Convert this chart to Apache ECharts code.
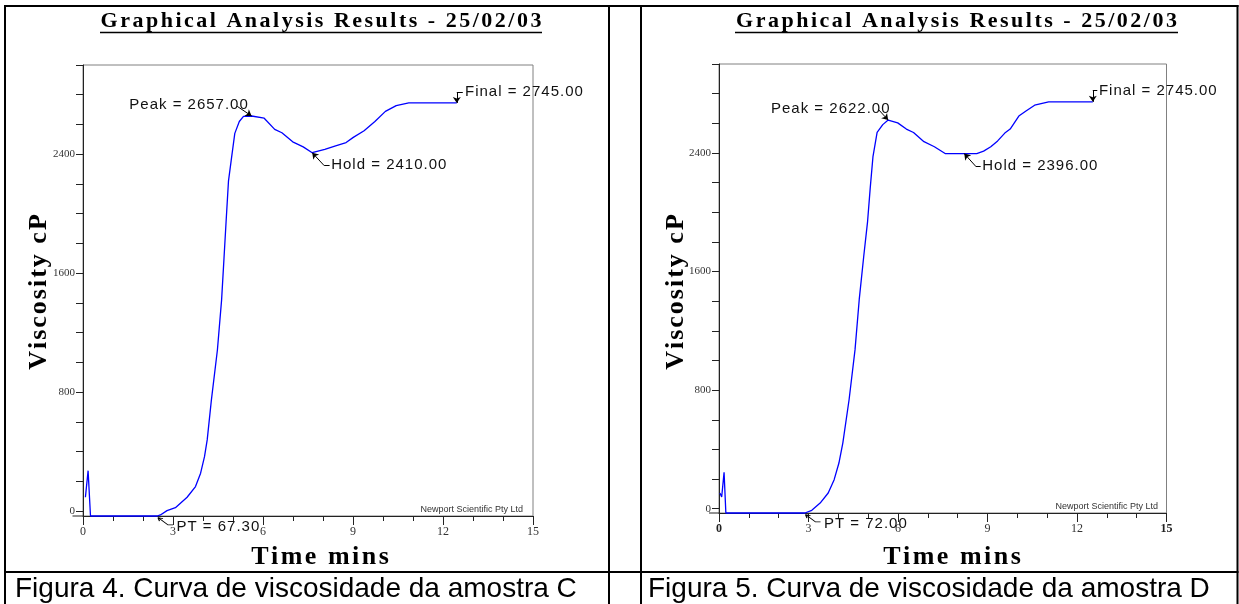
<!DOCTYPE html>
<html>
<head>
<meta charset="utf-8">
<title>Graphical Analysis Results - 25/02/03</title>
<script src="https://cdn.jsdelivr.net/npm/echarts@6/dist/echarts.min.js"></script>
<style>
  html, body { margin: 0; padding: 0; background: #fff; }
  #main { width: 1239px; height: 604px; }
</style>
</head>
<body>
<div id="main"></div>
<script>
// amostra C (esquerda): tempo em min, viscosidade em cP
const timeC = [0.08, 0.12, 0.17, 0.25, 2.47, 2.58, 2.8, 3.08, 3.47, 3.75, 3.92, 4.05, 4.14, 4.28, 4.48, 4.62, 4.7,
  4.77, 4.85, 4.94, 5.06, 5.21, 5.35, 5.62, 6.04, 6.39, 6.63, 6.99, 7.34, 7.64, 8.06, 8.42, 8.77, 9.01, 9.37,
  9.73, 10.08, 10.44, 10.86, 12.46]
const viscC = [92, 87, 271, -34, -34, -27, 2, 22, 92, 164, 254, 365, 478, 747, 1083, 1420, 1700,
  1947, 2221, 2358, 2540, 2620, 2654, 2657, 2642, 2567, 2544, 2483, 2449, 2410, 2433, 2456, 2478, 2513, 2558,
  2620, 2688, 2727, 2745, 2745]

// amostra D (direita)
const timeD = [0.03, 0.09, 0.17, 0.23, 2.88, 3.11, 3.39, 3.66, 3.86, 4.02, 4.15, 4.36, 4.56, 4.7, 4.85, 4.98,
  5.07, 5.16, 5.3, 5.49, 5.67, 5.99, 6.28, 6.52, 6.87, 7.22, 7.58, 8.64, 8.87, 9.11, 9.34, 9.58, 9.76, 10.05,
  10.29, 10.58, 11.05, 12.53]
const viscD = [106, 79, 245, -29, -29, -11, 38, 106, 196, 308, 443, 735, 1073, 1410, 1700, 1937,
  2166, 2373, 2538, 2591, 2622, 2603, 2561, 2538, 2476, 2442, 2396, 2396, 2412, 2442, 2481, 2534, 2561, 2649,
  2683, 2722, 2745, 2745]

// pontos marcados: [tempo, viscosidade]
const peakC = [5.62, 2657]
const holdC = [7.64, 2410]
const finalC = [12.46, 2745]
const ptC = [2.5, -34]
const peakD = [5.67, 2622]
const holdD = [8.22, 2396]
const finalD = [12.53, 2745]
const ptD = [2.9, -29]

const labelsC = ['Peak = 2657.00', 'Hold = 2410.00', 'Final = 2745.00', 'PT = 67.30']
const labelsD = ['Peak = 2622.00', 'Hold = 2396.00', 'Final = 2745.00', 'PT = 72.00']

// eixos
const yTickValues = [0, 200, 400, 600, 800, 1000, 1200, 1400, 1600, 1800, 2000, 2200, 2400, 2600, 2800, 3000]
const yLabelValues = [0, 800, 1600, 2400]
const yMinC = -34
const yMinD = -29
const yMax = 3000
const xMax = 15
const xStep = 3

const titleText = 'Graphical Analysis Results - 25/02/03'
const yName = 'Viscosity cP'
const xName = 'Time mins'
const credit = 'Newport Scientific Pty Ltd'
const captions = ['Figura 4. Curva de viscosidade da amostra C', 'Figura 5. Curva de viscosidade da amostra D']

// onde ficam os textos das anotações (coordenadas de dados)
const layoutC = {
  peakText: [1.51, 2731], peakFrom: [5.14, 2722],
  holdText: [8.24, 2330], holdElbow: [8.04, 2323], holdEnd: [8.22, 2323],
  finalText: [12.7, 2820], finalElbow: [12.46, 2815], finalEnd: [12.66, 2815]
}
const layoutD = {
  peakText: [1.71, 2699], peakFrom: [5.34, 2694],
  holdText: [8.79, 2311], holdElbow: [8.6, 2311], holdEnd: [8.77, 2311],
  finalText: [12.7, 2821], finalElbow: [12.53, 2821], finalEnd: [12.68, 2821]
}

const serif = 'Liberation Serif'
const sans = 'Liberation Sans'

// letra a letra, para ter o espaçamento largo do original
function spaced (str, key) {
  return str.split('').map(c => '{' + key + '|' + c + '}').join('')
}

const annRich = {
  sp: { fontFamily: sans, fontSize: 15, color: '#111', padding: [0, 0.5, 0, 0.5] }
}

function textMark (coord, text) {
  return {
    coord: coord,
    symbol: 'circle',
    symbolSize: 1,
    itemStyle: { color: 'rgba(0,0,0,0)' },
    label: {
      show: true,
      position: 'right',
      distance: 0,
      formatter: () => spaced(text, 'sp'),
      rich: annRich
    }
  }
}

function buildMarks (peak, hold, fin, pt, labels, lay) {
  const none = { symbol: 'none' }
  return {
    markLine: {
      silent: true,
      animation: false,
      symbol: ['none', 'arrow'],
      symbolSize: 6,
      label: { show: false },
      lineStyle: { color: '#000', width: 1, type: 'solid' },
      emphasis: { disabled: true },
      data: [
        [{ coord: lay.peakFrom }, { coord: peak }],
        [{ coord: lay.holdElbow }, { coord: hold }],
        [Object.assign({ coord: lay.holdElbow }, none), Object.assign({ coord: lay.holdEnd }, none)],
        [{ coord: lay.finalElbow }, { coord: fin }],
        [Object.assign({ coord: lay.finalElbow }, none), Object.assign({ coord: lay.finalEnd }, none)]
      ]
    },
    markPoint: {
      silent: true,
      animation: false,
      data: [
        textMark(lay.peakText, labels[0]),
        textMark(lay.holdText, labels[1]),
        textMark(lay.finalText, labels[2]),
        {
          coord: pt,
          symbol: 'path://M0 0L10 10.5L15 10.5M0 0L1.5 5M0 0L5 1.5',
          symbolSize: [15, 10.5],
          symbolKeepAspect: true,
          symbolOffset: [7.5, 5.25],
          itemStyle: { color: 'none', borderColor: '#000', borderWidth: 1 },
          label: {
            show: true,
            position: 'right',
            distance: 0,
            offset: [0, 5.25],
            formatter: () => spaced(labels[3], 'sp'),
            rich: annRich
          }
        }
      ]
    }
  }
}

function xAxisOf (idx, boldEnds) {
  return {
    type: 'value',
    gridIndex: idx,
    min: 0,
    max: xMax,
    interval: xStep,
    splitLine: { show: false },
    axisLine: { onZero: false, lineStyle: { color: '#222', width: 1 } },
    axisTick: { length: 9, lineStyle: { color: '#222' } },
    minorTick: { show: true, splitNumber: 3, length: 5, lineStyle: { color: '#222' } },
    axisLabel: {
      margin: 10,
      color: '#333',
      fontFamily: serif,
      fontSize: 12,
      formatter: v => (boldEnds && (v === 0 || v === xMax)) ? '{b|' + v + '}' : String(v),
      rich: { b: { fontFamily: serif, fontSize: 12, fontWeight: 'bold', color: '#222' } }
    }
  }
}

function yAxisOf (idx, min) {
  return {
    type: 'value',
    gridIndex: idx,
    min: min,
    max: yMax,
    splitLine: { show: false },
    axisLine: { lineStyle: { color: '#222', width: 1 } },
    axisTick: { length: 7, customValues: yTickValues, lineStyle: { color: '#222' } },
    axisLabel: {
      margin: 8,
      customValues: yLabelValues,
      formatter: v => String(v),
      color: '#333',
      fontFamily: serif,
      fontSize: 11
    }
  }
}

function seriesOf (idx, times, visc, marks) {
  return Object.assign({
    type: 'line',
    xAxisIndex: idx,
    yAxisIndex: idx,
    data: times.map((t, i) => [t, visc[i]]),
    showSymbol: false,
    clip: false,
    silent: true,
    lineStyle: { color: '#0000ff', width: 1.3 },
    itemStyle: { color: '#0000ff' }
  }, marks)
}

// moldura da tabela e textos fixos
function line (x1, y1, x2, y2, w, c) {
  return { type: 'line', silent: true, shape: { x1, y1, x2, y2 }, style: { stroke: c || '#000', lineWidth: w } }
}
function text (x, y, str, key, style, rot) {
  const rich = {}
  rich[key] = style
  return {
    type: 'text',
    silent: true,
    x: x,
    y: y,
    rotation: rot || 0,
    style: {
      text: spaced(str, key),
      rich: rich,
      fill: '#000',
      align: 'center',
      verticalAlign: 'middle'
    }
  }
}

const titleStyle = { fontFamily: serif, fontWeight: 'bold', fontSize: 22, fill: '#000', padding: [0, 1.25, 0, 1.25] }
const yNameStyle = { fontFamily: serif, fontWeight: 'bold', fontSize: 26, fill: '#000', padding: [0, 1, 0, 1] }
const xNameStyle = { fontFamily: serif, fontWeight: 'bold', fontSize: 26, fill: '#000', padding: [0, 1.25, 0, 1.25] }

const graphics = [
  line(4, 6, 1238.5, 6, 2),
  line(4, 572, 1238.5, 572, 2),
  line(5, 5, 5, 604, 2),
  line(609, 5, 609, 604, 2),
  line(641, 5, 641, 604, 2),
  line(1237.5, 5, 1237.5, 604, 2),
  text(321, 21, titleText, 't', titleStyle),
  text(956.5, 21, titleText, 't', titleStyle),
  line(100, 32.5, 542, 32.5, 1.3),
  line(735, 32.5, 1178, 32.5, 1.3),
  text(39, 292, yName, 'y', yNameStyle, Math.PI / 2),
  text(676, 292, yName, 'y', yNameStyle, Math.PI / 2),
  text(320, 557.5, xName, 'x', xNameStyle),
  text(952, 557.5, xName, 'x', xNameStyle),
  line(72.5, 516, 83, 516, 1, '#222'),
  line(709, 513, 719, 513, 1, '#222'),
  {
    type: 'text', silent: true, x: 523, y: 509.5,
    style: { text: credit, fontFamily: sans, fontSize: 9, fill: '#333', align: 'right', verticalAlign: 'middle' }
  },
  {
    type: 'text', silent: true, x: 1158, y: 507,
    style: { text: credit, fontFamily: sans, fontSize: 9, fill: '#333', align: 'right', verticalAlign: 'middle' }
  },
  {
    type: 'text', silent: true, x: 15, y: 589,
    style: { text: captions[0], fontFamily: sans, fontSize: 28, fill: '#000', align: 'left', verticalAlign: 'middle' }
  },
  {
    type: 'text', silent: true, x: 648, y: 589,
    style: { text: captions[1], fontFamily: sans, fontSize: 28, fill: '#000', align: 'left', verticalAlign: 'middle' }
  }
]

const option = {
  animation: false,
  backgroundColor: '#fff',
  grid: [
    { left: 83, top: 65, width: 450, height: 451, show: true, borderColor: '#808080', borderWidth: 1 },
    { left: 719, top: 64, width: 447.5, height: 449, show: true, borderColor: '#808080', borderWidth: 1 }
  ],
  xAxis: [xAxisOf(0, false), xAxisOf(1, true)],
  yAxis: [yAxisOf(0, yMinC), yAxisOf(1, yMinD)],
  series: [
    seriesOf(0, timeC, viscC, buildMarks(peakC, holdC, finalC, ptC, labelsC, layoutC)),
    seriesOf(1, timeD, viscD, buildMarks(peakD, holdD, finalD, ptD, labelsD, layoutD))
  ],
  graphic: graphics
}

const myChart = echarts.init(document.getElementById('main'), null, { renderer: 'canvas' })
myChart.setOption(option)
</script>
</body>
</html>
